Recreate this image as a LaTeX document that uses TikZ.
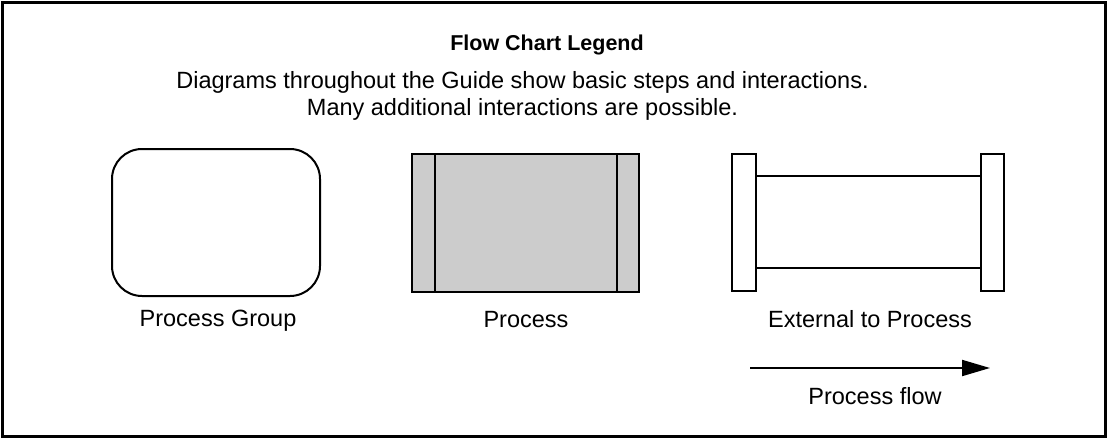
\documentclass[tikz,border=0pt]{standalone}
\usepackage{fontspec}
\setmainfont{Liberation Sans}
\usetikzlibrary{arrows.meta}
\begin{document}
\begin{tikzpicture}[x=1pt,y=-1pt,
  line/.style={line width=2pt,black},
  lbl/.style={font=\fontsize{23.5}{27}\selectfont,inner sep=0pt,anchor=base}]
\useasboundingbox (0,0) rectangle (1108,439);
\draw[line width=3pt] (2.5,2.5) rectangle (1105.5,436.5);
\node[font=\bfseries\fontsize{21.5}{25}\selectfont,anchor=base,inner sep=0pt] (title) at (547,50) {Flow Chart Legend};
\node[lbl] (l1) at (522.5,88) {Diagrams throughout the Guide show basic steps and interactions.};
\node[lbl] (l2) at (522.5,115) {Many additional interactions are possible.};
% process group
\draw[line,rounded corners=30pt] (112,149) rectangle (320,296);
\node[lbl] (pg) at (218,326) {Process Group};
% process
\draw[line,fill=black!20] (412,154) rectangle (639,292);
\draw[line] (435,154) -- (435,292) (617,154) -- (617,292);
\node[lbl] (p) at (526,327) {Process};
% external
\draw[line] (732,154) rectangle (756,291);
\draw[line] (981,154) rectangle (1004,291);
\draw[line] (756,176) -- (981,176) (756,268) -- (981,268);
\node[lbl] (ext) at (870,327) {External to Process};
% arrow
\coordinate (a1) at (750,368);
\coordinate (a2) at (990,368);
\draw[line,-{Triangle[length=28pt,width=16pt]}] (a1) -- (a2);
\node[lbl] (pf) at (875,404) {Process flow};
\end{tikzpicture}
\end{document}
